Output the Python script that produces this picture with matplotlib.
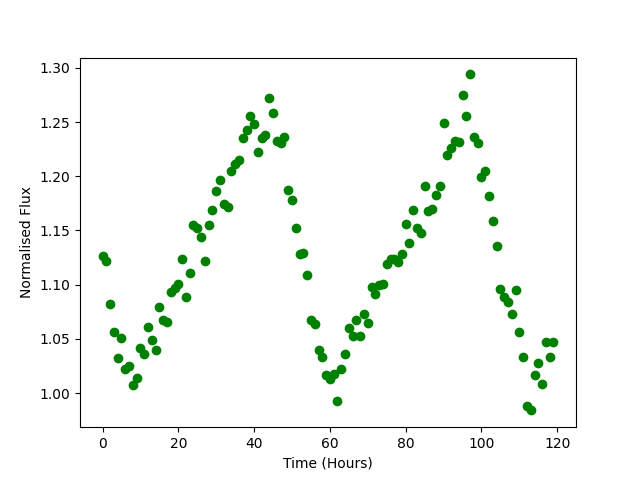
import matplotlib
matplotlib.use("Agg")
import matplotlib.pyplot as plt
import numpy as np

# hourly normalised flux readings
hours = np.arange(120)
flux = [
    1.126, 1.122, 1.082, 1.056, 1.032, 1.051, 1.022, 1.025, 1.007, 1.014,
    1.042, 1.036, 1.061, 1.049, 1.040, 1.079, 1.067, 1.066, 1.093, 1.097,
    1.101, 1.124, 1.089, 1.111, 1.155, 1.152, 1.144, 1.122, 1.155, 1.169,
    1.186, 1.197, 1.174, 1.172, 1.205, 1.211, 1.215, 1.235, 1.243, 1.256,
    1.248, 1.222, 1.235, 1.238, 1.272, 1.258, 1.233, 1.231, 1.236, 1.187,
    1.178, 1.152, 1.128, 1.129, 1.109, 1.067, 1.064, 1.040, 1.033, 1.017,
    1.013, 1.018, 0.993, 1.022, 1.036, 1.060, 1.053, 1.067, 1.053, 1.073,
    1.065, 1.098, 1.091, 1.100, 1.101, 1.119, 1.124, 1.124, 1.121, 1.128,
    1.156, 1.138, 1.169, 1.152, 1.148, 1.191, 1.168, 1.170, 1.183, 1.191,
    1.249, 1.220, 1.226, 1.233, 1.232, 1.275, 1.256, 1.294, 1.236, 1.231,
    1.199, 1.205, 1.182, 1.159, 1.136, 1.096, 1.089, 1.084, 1.073, 1.095,
    1.056, 1.033, 0.988, 0.984, 1.017, 1.028, 1.008, 1.047, 1.033, 1.047,
]

plt.figure(figsize=(6.4, 4.8), dpi=100)
plt.plot(hours, flux, 'o', color='green')
plt.xlabel('Time (Hours)')
plt.ylabel('Normalised Flux')
plt.savefig('out.png')
